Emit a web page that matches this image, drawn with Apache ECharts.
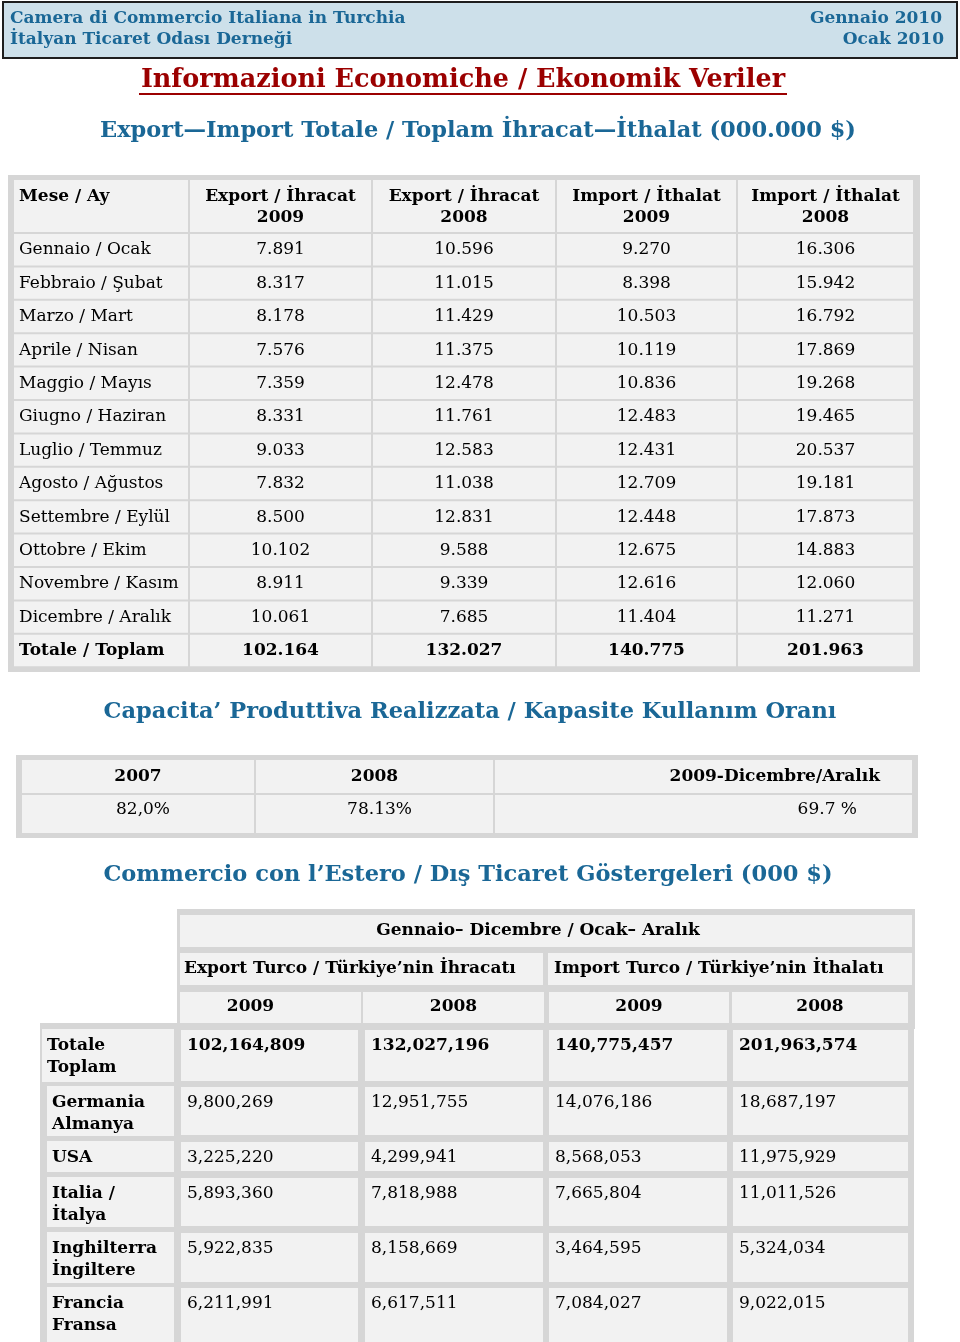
<!DOCTYPE html>
<html>
<head>
<meta charset="utf-8">
<script src="https://cdn.jsdelivr.net/npm/echarts@6/dist/echarts.min.js"></script>
<style>
  html, body { margin: 0; padding: 0; background: #fff; }
  #main { width: 960px; height: 1342px; }
</style>
</head>
<body>
<div id="main"></div>
<script>
// --- data: export / import totals (000.000 $)
const months = ['Gennaio / Ocak', 'Febbraio / Şubat', 'Marzo / Mart', 'Aprile / Nisan',
  'Maggio / Mayıs', 'Giugno / Haziran', 'Luglio / Temmuz', 'Agosto / Ağustos',
  'Settembre / Eylül', 'Ottobre / Ekim', 'Novembre / Kasım', 'Dicembre / Aralık'];
const export2009 = [7891, 8317, 8178, 7576, 7359, 8331, 9033, 7832, 8500, 10102, 8911, 10061];
const export2008 = [10596, 11015, 11429, 11375, 12478, 11761, 12583, 11038, 12831, 9588, 9339, 7685];
const import2009 = [9270, 8398, 10503, 10119, 10836, 12483, 12431, 12709, 12448, 12675, 12616, 11404];
const import2008 = [16306, 15942, 16792, 17869, 19268, 19465, 20537, 19181, 17873, 14883, 12060, 11271];
const totals = [102164, 132027, 140775, 201963];
const table1Heads = [['Mese / Ay'], ['Export / İhracat', '2009'], ['Export / İhracat', '2008'],
  ['Import / İthalat', '2009'], ['Import / İthalat', '2008']];

// --- data: capacity usage
const capYears = ['2007', '2008', '2009-Dicembre/Aralık'];
const capValues = ['82,0%', '78.13%', '69.7 %'];

// --- data: foreign trade (000 $)
const countries = [['Totale', 'Toplam'], ['Germania', 'Almanya'], ['USA'], ['Italia /', 'İtalya'],
  ['Inghilterra', 'İngiltere'], ['Francia', 'Fransa']];
const expTr2009 = [102164809, 9800269, 3225220, 5893360, 5922835, 6211991];
const expTr2008 = [132027196, 12951755, 4299941, 7818988, 8158669, 6617511];
const impTr2009 = [140775457, 14076186, 8568053, 7665804, 3464595, 7084027];
const impTr2008 = [201963574, 18687197, 11975929, 11011526, 5324034, 9022015];
const tradeYears = ['2009', '2008', '2009', '2008'];

const FONT = '"DejaVu Serif", "Liberation Serif", serif';
const BLUE = '#1a6796';
const CELL = '#f2f2f2';
const FRAME = '#d6d6d6';

function fmt(n, sep) {
  return String(n).replace(/\B(?=(\d{3})+(?!\d))/g, sep);
}

const els = [];
function rect(x, y, w, h, fill, stroke, lw) {
  els.push({ type: 'rect', shape: { x: x, y: y, width: w, height: h },
    style: { fill: fill, stroke: stroke || null, lineWidth: lw || 0 }, silent: true });
}
function text(t, x, y, opt) {
  opt = opt || {};
  els.push({ type: 'text', x: x, y: y, silent: true,
    style: { text: t, fill: opt.color || '#000', font: (opt.bold ? 'bold ' : '') + (opt.size || 17) + 'px ' + FONT,
      textAlign: opt.align || 'left', textVerticalAlign: 'middle' } });
}

// header band
rect(3, 2, 954, 56, '#cde0ea', '#1e1e1e', 2);
text('Camera di Commercio Italiana in Turchia', 10, 19, { bold: true, size: 17, color: BLUE });
text('İtalyan Ticaret Odası Derneği', 10, 40, { bold: true, size: 17, color: BLUE });
text('Gennaio 2010', 942, 19, { bold: true, size: 17, color: BLUE, align: 'right' });
text('Ocak 2010', 944, 40, { bold: true, size: 17, color: BLUE, align: 'right' });

// main title
text('Informazioni Economiche / Ekonomik Veriler', 463, 80, { bold: true, size: 25.5, color: '#9b0000', align: 'center' });
els.push({ type: 'line', shape: { x1: 139, y1: 94, x2: 787, y2: 94 }, style: { stroke: '#9b0000', lineWidth: 2 }, silent: true });

// ---- table 1
text('Export—Import Totale / Toplam İhracat—İthalat (000.000 $)', 478, 131, { bold: true, size: 22.5, color: BLUE, align: 'center' });
const t1Cols = [14, 190, 373, 557, 738, 915];
const t1Top = 180, t1HeadH = 54, t1RowH = 33.4;
const t1Rows = months.length + 1;
rect(8, 175, 912, 497, FRAME);
for (let c = 0; c < 5; c++) {
  const x0 = t1Cols[c], x1 = t1Cols[c + 1] - 2;
  const cx = (x0 + x1) / 2;
  rect(x0, t1Top, x1 - x0, t1HeadH - 2, CELL);
  const h = table1Heads[c];
  if (c === 0) text(h[0], 19, t1Top + 17, { bold: true });
  else { text(h[0], cx, t1Top + 17, { bold: true, align: 'center' }); text(h[1], cx, t1Top + 38, { bold: true, align: 'center' }); }
  for (let r = 0; r < t1Rows; r++) {
    const y0 = t1Top + t1HeadH + r * t1RowH;
    rect(x0, y0, x1 - x0, t1RowH - 2, CELL);
    const isTot = r === months.length;
    let v;
    if (c === 0) v = isTot ? 'Totale / Toplam' : months[r];
    else {
      const series = [export2009, export2008, import2009, import2008][c - 1];
      v = fmt(isTot ? totals[c - 1] : series[r], '.');
    }
    if (c === 0) text(v, 19, y0 + 16, { bold: isTot });
    else text(v, cx, y0 + 16, { bold: isTot, align: 'center' });
  }
}

// ---- table 2
text('Capacita’ Produttiva Realizzata / Kapasite Kullanım Oranı', 470, 712, { bold: true, size: 22.5, color: BLUE, align: 'center' });
const t2Cols = [22, 256, 495, 914];
rect(16, 755, 902, 83, FRAME);
for (let c = 0; c < 3; c++) {
  const x0 = t2Cols[c], x1 = t2Cols[c + 1] - 2;
  rect(x0, 760, x1 - x0, 33, CELL);
  rect(x0, 795, x1 - x0, 38, CELL);
  if (c < 2) {
    text(capYears[c], (x0 + x1) / 2, 777, { bold: true, align: 'center' });
    text(capValues[c], (x0 + x1) / 2 + 5, 810, { align: 'center' });
  } else {
    text(capYears[c], 880, 777, { bold: true, align: 'right' });
    text(capValues[c], 857, 810, { align: 'right' });
  }
}

// ---- table 3
text('Commercio con l’Estero / Dış Ticaret Göstergeleri (000 $)', 468, 875, { bold: true, size: 22.5, color: BLUE, align: 'center' });
rect(177, 909, 738, 120, FRAME);
rect(180, 915, 732, 32, CELL);
text('Gennaio– Dicembre / Ocak– Aralık', 538, 931, { bold: true, align: 'center' });
rect(180, 953, 363, 32, CELL);
rect(548, 953, 364, 32, CELL);
text('Export Turco / Türkiye’nin İhracatı', 184, 969, { bold: true });
text('Import Turco / Türkiye’nin İthalatı', 554, 969, { bold: true });
const t3Cols = [[180, 361], [363, 544], [549, 729], [732, 908]];
t3Cols.forEach(function (cc, i) {
  rect(cc[0], 992, cc[1] - cc[0], 31, CELL);
  text(tradeYears[i], (cc[0] + cc[1]) / 2 - 20 * (i === 0 ? 1 : 0), 1007, { bold: true, align: 'center' });
});

rect(40, 1023, 874, 319, FRAME);
const bodyCols = [[181, 358], [365, 543], [549, 727], [733, 908]];
const bodyRows = [[1030, 1081], [1087, 1135], [1142, 1171], [1178, 1226], [1233, 1282], [1288, 1342]];
const tradeSeries = [expTr2009, expTr2008, impTr2009, impTr2008];
countries.forEach(function (name, r) {
  const y0 = bodyRows[r][0], y1 = bodyRows[r][1];
  const lx = r === 0 ? 42 : 47;
  rect(lx, y0 - 1, 174 - lx, y1 - y0 + 2, CELL);
  name.forEach(function (line, k) {
    text(line, lx + 5, y0 + 16 + k * 22, { bold: true });
  });
  bodyCols.forEach(function (cc, c) {
    rect(cc[0], y0, cc[1] - cc[0], y1 - y0, CELL);
    text(fmt(tradeSeries[c][r], ','), cc[0] + 6, y0 + 16, { bold: r === 0 });
  });
});

const chart = echarts.init(document.getElementById('main'), null, { renderer: 'canvas' });
chart.setOption({
  backgroundColor: '#ffffff',
  animation: false,
  graphic: { elements: els }
});
</script>
</body>
</html>
